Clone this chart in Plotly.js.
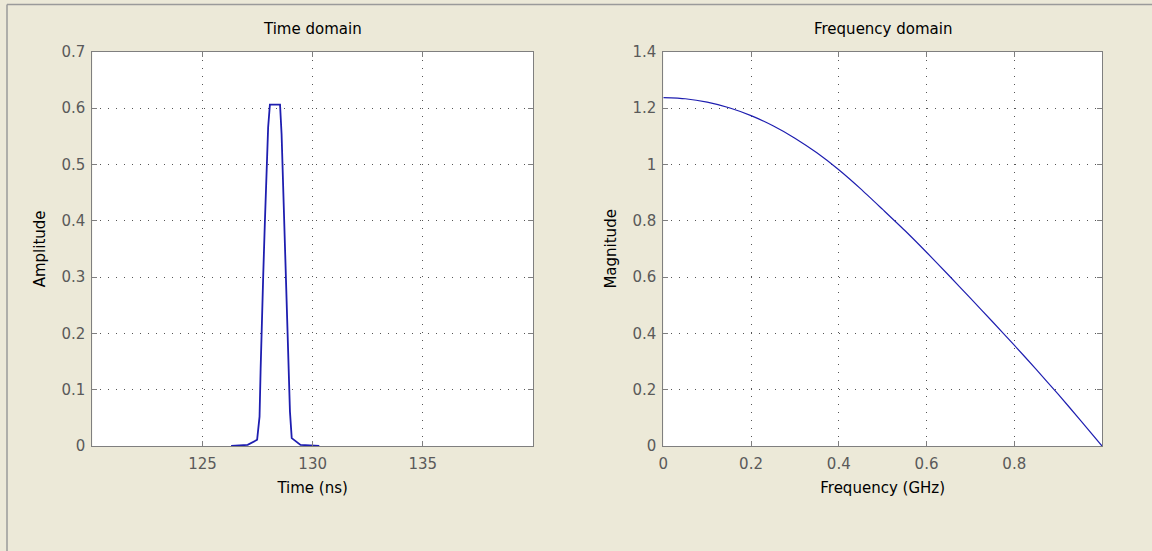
<!DOCTYPE html>
<html>
<head>
<meta charset="utf-8">
<script src="https://cdn.plot.ly/plotly-3.0.1.min.js"></script>
<style>
  html, body { margin: 0; padding: 0; background: #ECE9D8; }
  #chart { width: 1152px; height: 551px; }
</style>
</head>
<body>
<div id="chart"></div>
<script>
// Time-domain pulse (ns, amplitude)
const timeNs = [126.30, 127.05, 127.48, 127.59, 127.64, 127.69, 127.76, 127.83, 127.91, 127.98, 128.06,
                128.52, 128.59, 128.67, 128.74, 128.82, 128.89, 128.97, 129.05, 129.45, 130.30];
const amplitude = [0.000, 0.002, 0.011, 0.052, 0.138, 0.223, 0.307, 0.395, 0.480, 0.566, 0.606,
                   0.606, 0.554, 0.457, 0.359, 0.262, 0.161, 0.061, 0.014, 0.002, 0.000];

// Frequency-domain magnitude (GHz, magnitude)
const freqGHz = [0.00, 0.05, 0.10, 0.15, 0.20, 0.25, 0.30, 0.35, 0.40, 0.45, 0.50,
                 0.55, 0.60, 0.65, 0.70, 0.75, 0.80, 0.85, 0.90, 0.95, 1.00];
const magnitude = [1.237, 1.233, 1.221, 1.201, 1.173, 1.137, 1.093, 1.041, 0.981, 0.913, 0.840,
                   0.766, 0.688, 0.607, 0.525, 0.442, 0.358, 0.272, 0.184, 0.093, 0.000];

// Tick labels
const timeTicks = [125, 130, 135];
const ampTicks = [0, 0.1, 0.2, 0.3, 0.4, 0.5, 0.6, 0.7];
const freqTicks = [0, 0.2, 0.4, 0.6, 0.8];
const magTicks = [0, 0.2, 0.4, 0.6, 0.8, 1, 1.2, 1.4];

const W = 1152, H = 551;
const fontFam = 'DejaVu Sans, Verdana, sans-serif';
const tickFont = {family: fontFam, size: 15, color: '#5a5a5a'};
const titleFont = {family: fontFam, size: 15, color: '#000000'};

function axisBase(extra) {
  return Object.assign({
    showline: true, mirror: 'ticks', linecolor: '#7f7f7f', linewidth: 1,
    ticks: 'inside', ticklen: 5, tickcolor: '#7f7f7f', tickwidth: 1,
    showgrid: true, gridcolor: '#555555', gridwidth: 1, griddash: '1px,7px',
    zeroline: false, tickfont: tickFont, automargin: false, fixedrange: true
  }, extra);
}

const traces = [
  {x: timeNs, y: amplitude, type: 'scatter', mode: 'lines', xaxis: 'x', yaxis: 'y',
   line: {color: '#1e1eb0', width: 1.8}, hoverinfo: 'skip'},
  {x: freqGHz, y: magnitude, type: 'scatter', mode: 'lines', xaxis: 'x2', yaxis: 'y2',
   line: {color: '#1e1eb0', width: 1.2, shape: 'spline', smoothing: 0.6}, hoverinfo: 'skip'}
];

const yDom = [1 - 446 / H, 1 - 51.7 / H];

const layout = {
  width: W, height: H,
  paper_bgcolor: '#ECE9D8', plot_bgcolor: '#ffffff',
  margin: {l: 0, r: 0, t: 0, b: 0},
  showlegend: false,
  xaxis: axisBase({domain: [92.3 / W, 533 / W], range: [120, 140], tickvals: timeTicks,
    ticktext: timeTicks.map(String), anchor: 'y', ticklabelstandoff: 4,
    title: {text: 'Time (ns)', font: titleFont, standoff: 10}}),
  yaxis: axisBase({domain: yDom, range: [0, 0.7], tickvals: ampTicks,
    ticktext: ampTicks.map(String), anchor: 'x', ticklabelstandoff: 3,
    title: {text: 'Amplitude', font: titleFont, standoff: 12}}),
  xaxis2: axisBase({domain: [663.3 / W, 1102 / W], range: [0, 1], tickvals: freqTicks,
    ticktext: freqTicks.map(String), anchor: 'y2', ticklabelstandoff: 4,
    title: {text: 'Frequency (GHz)', font: titleFont, standoff: 10}}),
  yaxis2: axisBase({domain: yDom, range: [0, 1.4], tickvals: magTicks,
    ticktext: magTicks.map(String), anchor: 'x2', ticklabelstandoff: 3,
    title: {text: 'Magnitude', font: titleFont, standoff: 12}}),
  annotations: [
    {text: 'Time domain', xref: 'paper', yref: 'paper', x: (92.3 + 533) / 2 / W, y: 1 - 29 / H,
     xanchor: 'center', yanchor: 'middle', showarrow: false, font: titleFont},
    {text: 'Frequency domain', xref: 'paper', yref: 'paper', x: (663.3 + 1102) / 2 / W, y: 1 - 29 / H,
     xanchor: 'center', yanchor: 'middle', showarrow: false, font: titleFont}
  ],
  shapes: [
    {type: 'line', xref: 'paper', yref: 'paper', x0: 7 / W, x1: 1, y0: 1 - 4.5 / H, y1: 1 - 4.5 / H,
     line: {color: '#9a9a9a', width: 1.5}},
    {type: 'line', xref: 'paper', yref: 'paper', x0: 7 / W, x1: 7 / W, y0: 0, y1: 1 - 4.5 / H,
     line: {color: '#9a9a9a', width: 1.5}}
  ]
};

Plotly.newPlot('chart', traces, layout, {displayModeBar: false, staticPlot: true});
</script>
</body>
</html>
